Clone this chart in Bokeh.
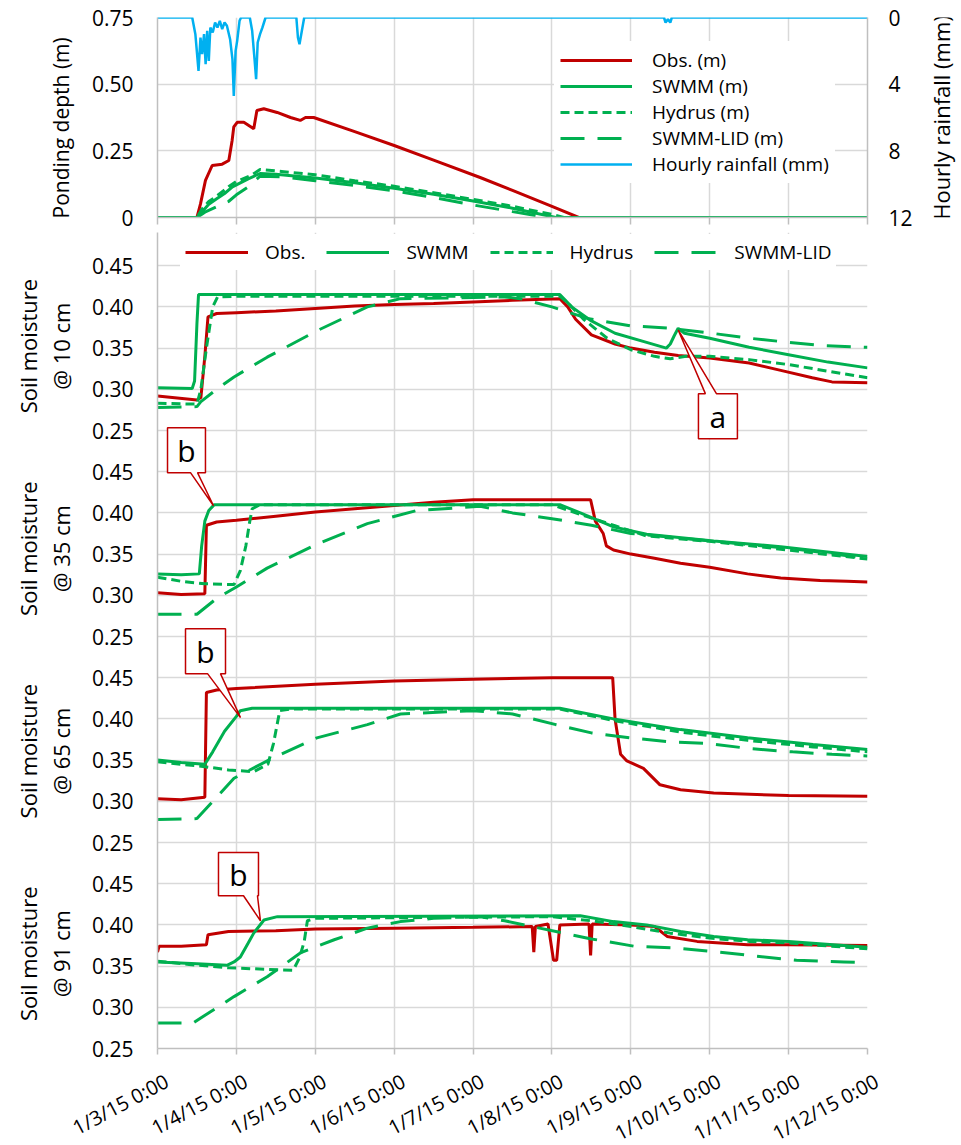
import math
from bokeh.plotting import figure
from bokeh.layouts import column, row
from bokeh.models import Range1d, LinearAxis, FixedTicker, Legend, LegendItem
from bokeh.core.properties import value
from bokeh.embed import file_html
from bokeh.resources import INLINE

FONT = "Open Sans"
RED = "#c00000"
GREEN = "#00b050"
BLUE = "#00b0f0"
GRID = "#d9d9d9"
AXIS = "#bfbfbf"

# ---------------- x axis (days after 1/3/15 0:00) ----------------
DAY_TICKS = [0, 1, 2, 3, 4, 5, 6, 7, 8, 9]
DAY_LABELS = ["1/3/15 0:00", "1/4/15 0:00", "1/5/15 0:00", "1/6/15 0:00", "1/7/15 0:00",
              "1/8/15 0:00", "1/9/15 0:00", "1/10/15 0:00", "1/11/15 0:00", "1/12/15 0:00"]

# ---------------- top panel: ponding depth (m) & hourly rainfall (mm) ----------------
PONDING_TICKS = [0, 0.25, 0.5, 0.75]
PONDING_LABELS = ["0", "0.25", "0.50", "0.75"]
RAIN_TICKS = [0, 4, 8, 12]

pond_obs = [(0, 0), (0.5, 0), (0.545, 0.051), (0.608, 0.139), (0.693, 0.195), (0.82, 0.2),
            (0.904, 0.214), (0.946, 0.289), (0.967, 0.34), (1.01, 0.357), (1.094, 0.357),
            (1.157, 0.345), (1.22, 0.333), (1.26, 0.401), (1.347, 0.408), (1.517, 0.394),
            (1.686, 0.375), (1.81, 0.364), (1.876, 0.375), (1.98, 0.375), (2.5, 0.322),
            (3.0, 0.27), (3.5, 0.215), (4.09, 0.15), (4.5, 0.102), (5.0, 0.042), (5.34, 0.0), (9.0, 0.0)]
pond_swmm = [(0, 0), (0.5, 0), (0.56, 0.02), (0.65, 0.05), (0.75, 0.07), (0.85, 0.09), (0.95, 0.115),
             (1.05, 0.13), (1.15, 0.145), (1.3, 0.165), (1.5, 0.162), (2.0, 0.148), (2.5, 0.13),
             (3.0, 0.11), (3.5, 0.087), (4.0, 0.062), (4.5, 0.035), (5.05, 0.0), (9.0, 0.0)]
pond_hydrus = [(0, 0), (0.5, 0), (0.56, 0.03), (0.65, 0.06), (0.75, 0.08), (0.9, 0.115), (1.0, 0.135),
               (1.2, 0.16), (1.3, 0.18), (1.6, 0.172), (2.0, 0.16), (2.5, 0.138), (3.0, 0.117),
               (3.5, 0.093), (4.0, 0.068), (4.5, 0.042), (5.0, 0.012), (5.15, 0.0), (9.0, 0.0)]
pond_lid = [(0, 0), (0.5, 0), (0.6, 0.02), (0.75, 0.04), (0.9, 0.06), (1.0, 0.085), (1.15, 0.115),
            (1.3, 0.155), (1.6, 0.152), (2.0, 0.138), (2.5, 0.12), (3.0, 0.1), (3.5, 0.075),
            (4.0, 0.047), (4.5, 0.022), (4.95, 0.0), (9.0, 0.0)]
rain = [(0, 0), (0.44, 0), (0.48, 1.0), (0.52, 3.2), (0.545, 1.2), (0.566, 2.2), (0.59, 1.0),
        (0.61, 2.8), (0.63, 0.8), (0.65, 2.6), (0.67, 0.6), (0.70, 0.9), (0.73, 0.3), (0.76, 0.6),
        (0.79, 0.2), (0.82, 0.7), (0.85, 0.3), (0.88, 0.5), (0.92, 1.3), (0.95, 2.5), (0.967, 4.7),
        (0.99, 2.0), (1.01, 1.4), (1.04, 0.2), (1.06, 0), (1.17, 0), (1.20, 0.8), (1.23, 2.5),
        (1.25, 3.7), (1.27, 1.5), (1.30, 1.0), (1.33, 0.6), (1.35, 0.3), (1.37, 0), (1.76, 0),
        (1.78, 1.2), (1.80, 1.6), (1.83, 0.8), (1.86, 0), (6.42, 0), (6.44, 0.3), (6.47, 0.1),
        (6.50, 0.3), (6.52, 0), (9.0, 0)]

# ---------------- soil moisture panels ----------------
DEPTHS = ["10 cm", "35 cm", "65 cm", "91 cm"]
SOIL_TICKS = [0.25, 0.30, 0.35, 0.40, 0.45]
SOIL_LABELS = ["0.25", "0.30", "0.35", "0.40", "0.45"]

obs10 = [(0, 0.292), (0.5, 0.287), (0.55, 0.29), (0.6, 0.34), (0.64, 0.388), (0.75, 0.392), (1.0, 0.393),
         (1.5, 0.395), (2.0, 0.398), (2.5, 0.401), (3.0, 0.403), (3.5, 0.404), (4.0, 0.406), (4.5, 0.408),
         (5.1, 0.41), (5.2, 0.40), (5.3, 0.385), (5.5, 0.366), (5.8, 0.355), (6.0, 0.35), (6.3, 0.345),
         (6.6, 0.341), (7.0, 0.338), (7.5, 0.332), (7.9, 0.323), (8.3, 0.314), (8.55, 0.309), (9.0, 0.308)]
swmm10 = [(0, 0.302), (0.44, 0.301), (0.47, 0.31), (0.5, 0.38), (0.52, 0.415), (5.1, 0.415), (5.25, 0.40),
          (5.5, 0.383), (5.8, 0.368), (6.2, 0.357), (6.45, 0.35), (6.5, 0.355), (6.55, 0.365), (6.6, 0.374),
          (6.68, 0.368), (7.0, 0.362), (7.5, 0.351), (8.0, 0.342), (8.5, 0.333), (9.0, 0.326)]
hydrus10 = [(0, 0.283), (0.5, 0.282), (0.55, 0.30), (0.62, 0.35), (0.70, 0.40), (0.76, 0.412), (1.0, 0.413),
            (5.1, 0.413), (5.2, 0.405), (5.4, 0.385), (5.7, 0.362), (6.0, 0.348), (6.3, 0.34), (6.5, 0.337),
            (6.7, 0.34), (7.0, 0.34), (7.5, 0.336), (8.0, 0.33), (8.5, 0.322), (9.0, 0.314)]
lid10 = [(0, 0.278), (0.5, 0.279), (0.55, 0.285), (0.75, 0.30), (0.97, 0.315), (1.39, 0.339), (2.02, 0.371),
         (2.66, 0.40), (3.08, 0.41), (4.4, 0.412), (4.6, 0.41), (5.0, 0.40), (5.45, 0.386), (6.0, 0.377),
         (6.5, 0.374), (6.95, 0.369), (7.5, 0.362), (8.0, 0.357), (8.45, 0.353), (9.0, 0.351)]

obs35 = [(0, 0.303), (0.3, 0.301), (0.6, 0.302), (0.62, 0.385), (0.75, 0.389), (1.0, 0.391), (1.5, 0.396),
         (2.0, 0.401), (2.5, 0.405), (3.0, 0.409), (3.5, 0.413), (4.0, 0.416), (5.49, 0.416), (5.55, 0.39),
         (5.65, 0.375), (5.69, 0.36), (5.78, 0.355), (6.0, 0.35), (6.3, 0.345), (6.63, 0.339), (7.0, 0.334),
         (7.48, 0.326), (7.9, 0.321), (8.4, 0.318), (8.74, 0.317), (9.0, 0.316)]
swmm35 = [(0, 0.326), (0.3, 0.325), (0.53, 0.326), (0.56, 0.36), (0.6, 0.39), (0.65, 0.403), (0.72, 0.41),
          (5.1, 0.41), (5.36, 0.40), (5.78, 0.383), (6.2, 0.374), (7.05, 0.366), (7.9, 0.359), (9.0, 0.347)]
hydrus35 = [(0, 0.322), (0.3, 0.317), (0.6, 0.314), (0.97, 0.313), (1.05, 0.33), (1.12, 0.36), (1.17, 0.39),
            (1.2, 0.405), (1.3, 0.41), (5.0, 0.41), (5.3, 0.40), (5.78, 0.385), (6.2, 0.372), (7.05, 0.365),
            (7.9, 0.356), (9.0, 0.344)]
lid35 = [(0, 0.277), (0.5, 0.277), (0.76, 0.297), (1.0, 0.31), (1.39, 0.333), (2.02, 0.362), (2.66, 0.387),
         (3.29, 0.403), (4.09, 0.408), (4.5, 0.40), (5.0, 0.393), (5.5, 0.385), (6.0, 0.375), (7.0, 0.366),
         (8.0, 0.357), (9.0, 0.345)]

obs65 = [(0, 0.303), (0.3, 0.302), (0.6, 0.305), (0.62, 0.432), (0.75, 0.435), (1.0, 0.437), (2.0, 0.442),
         (3.0, 0.446), (4.0, 0.448), (5.0, 0.45), (5.77, 0.45), (5.8, 0.40), (5.87, 0.357), (5.95, 0.349),
         (6.16, 0.34), (6.37, 0.32), (6.63, 0.314), (7.05, 0.31), (8.0, 0.307), (9.0, 0.306)]
swmm65 = [(0, 0.35), (0.3, 0.347), (0.6, 0.345), (0.7, 0.36), (0.85, 0.385), (1.0, 0.403), (1.05, 0.41),
          (1.2, 0.413), (5.1, 0.413), (5.78, 0.40), (6.63, 0.387), (7.48, 0.377), (8.31, 0.369), (9.0, 0.363)]
hydrus65 = [(0, 0.348), (0.3, 0.345), (0.6, 0.342), (0.9, 0.338), (1.22, 0.336), (1.4, 0.345), (1.47, 0.37),
            (1.55, 0.41), (1.7, 0.412), (5.1, 0.412), (5.78, 0.398), (6.63, 0.384), (7.48, 0.374),
            (8.31, 0.366), (9.0, 0.36)]
lid65 = [(0, 0.278), (0.5, 0.279), (0.97, 0.328), (1.47, 0.353), (2.02, 0.377), (2.66, 0.393), (3.08, 0.406),
         (4.0, 0.41), (4.5, 0.406), (5.05, 0.393), (5.5, 0.383), (6.0, 0.377), (6.5, 0.372), (7.0, 0.37),
         (7.5, 0.364), (8.05, 0.36), (8.55, 0.357), (9.0, 0.355)]

obs91 = [(0, 0.367), (0.02, 0.374), (0.3, 0.374), (0.62, 0.376), (0.64, 0.388), (0.9, 0.392), (1.5, 0.393),
         (2.0, 0.395), (3.0, 0.396), (4.0, 0.397), (4.75, 0.398), (4.77, 0.367), (4.79, 0.398), (4.95, 0.401),
         (5.02, 0.357), (5.06, 0.357), (5.1, 0.40), (5.47, 0.401), (5.49, 0.363), (5.51, 0.401), (6.0, 0.40),
         (6.3, 0.398), (6.46, 0.386), (6.84, 0.38), (7.48, 0.376), (8.0, 0.376), (9.0, 0.375)]
swmm91 = [(0, 0.355), (0.5, 0.353), (0.88, 0.351), (0.97, 0.355), (1.05, 0.361), (1.15, 0.378), (1.22, 0.39),
          (1.35, 0.406), (1.52, 0.41), (5.36, 0.411), (5.78, 0.404), (6.2, 0.40), (6.63, 0.392), (7.05, 0.386),
          (7.48, 0.382), (8.0, 0.38), (9.0, 0.373)]
hydrus91 = [(0, 0.356), (0.4, 0.352), (0.9, 0.348), (1.4, 0.346), (1.72, 0.345), (1.8, 0.36), (1.86, 0.38),
            (1.9, 0.405), (2.0, 0.408), (5.0, 0.41), (5.5, 0.405), (6.0, 0.398), (6.5, 0.39), (7.0, 0.384),
            (7.5, 0.38), (8.0, 0.378), (9.0, 0.371)]
lid91 = [(0, 0.281), (0.45, 0.281), (0.97, 0.313), (1.39, 0.337), (1.81, 0.366), (2.24, 0.382), (2.66, 0.396),
         (3.08, 0.404), (3.5, 0.408), (4.09, 0.41), (4.4, 0.405), (4.7, 0.399), (5.15, 0.39), (5.5, 0.383),
         (6.05, 0.374), (6.55, 0.372), (7.1, 0.367), (7.6, 0.362), (8.1, 0.357), (8.7, 0.355), (9.0, 0.354)]

SOIL = [
    {"obs": obs10, "swmm": swmm10, "hydrus": hydrus10, "lid": lid10},
    {"obs": obs35, "swmm": swmm35, "hydrus": hydrus35, "lid": lid35},
    {"obs": obs65, "swmm": swmm65, "hydrus": hydrus65, "lid": lid65},
    {"obs": obs91, "swmm": swmm91, "hydrus": hydrus91, "lid": lid91},
]

# callouts: panel, text, box (t0, t1, v0, v1), wedge base (t_a, t_b), tip (t, v)
CALLOUTS = [
    (0, "a", (6.857, 7.351, 0.240, 0.2947), (6.945, 7.085), (6.6, 0.372)),
    (1, "b", (0.127, 0.608, 0.4488, 0.5034), (0.418, 0.507), (0.71, 0.4087)),
    (2, "b", (0.355, 0.862, 0.4549, 0.5095), (0.634, 0.798), (1.052, 0.4015)),
    (3, "b", (0.773, 1.28, 0.4354, 0.488), (1.09, 1.267), (1.305, 0.405)),
]

STYLE = {
    "obs": dict(line_color=RED, line_width=3),
    "swmm": dict(line_color=GREEN, line_width=3),
    "hydrus": dict(line_color=GREEN, line_width=3, line_dash="9 5"),
    "lid": dict(line_color=GREEN, line_width=3, line_dash="24 13"),
}

# ---------------- layout geometry (pixels) ----------------
TOTAL_W = 958
LEFT_W = 80            # column holding the rotated y titles
RIGHT_W = 38           # column holding the right y title of the top figure
FRAME_L = 157          # left edge of plotting frames on the page
FRAME_W = 710
PX_DAY = FRAME_W / 9.0
TOP_H = 232            # top figure: frame 17..217
PX_UNIT = 824.0        # soil figure pixels per moisture unit
SOIL_FRAME_H = 816
SOIL_BOTTOM_BORDER = 14
SOIL_H = SOIL_FRAME_H + SOIL_BOTTOM_BORDER
SOIL_RANGE_TOP = -0.5 + SOIL_FRAME_H / PX_UNIT
XLAB_H = 83
PANEL_STEP = 0.25      # vertical offset between stacked soil panels (plot units)


def xs(pts):
    return [p[0] for p in pts]


def ys(pts, off=0.0):
    return [p[1] + off for p in pts]


def style_axis(ax, size="21px"):
    ax.axis_line_color = AXIS
    ax.axis_line_width = 1.5
    ax.major_tick_line_color = AXIS
    ax.major_tick_line_width = 1.5
    ax.minor_tick_line_color = None
    ax.major_tick_in = 0
    ax.major_tick_out = 0
    ax.major_label_text_font = FONT
    ax.major_label_text_font_size = size
    ax.major_label_text_color = "black"


def style_legend(lg):
    lg.label_text_font = FONT
    lg.label_text_font_size = "19px"
    lg.label_text_color = "black"
    lg.border_line_alpha = 0
    lg.background_fill_color = "white"
    lg.background_fill_alpha = 1
    lg.margin = 0
    lg.glyph_height = 22
    lg.label_height = 22


def text_fig(w, h, x_range=None):
    f = figure(width=w, height=h, x_range=x_range or Range1d(0, w), y_range=Range1d(0, h),
               output_backend="svg", toolbar_location=None, title=None,
               x_axis_type=None, y_axis_type=None, min_border=0)
    f.outline_line_color = None
    return f


def add_texts(f, x, y, text, angle, size, align="center", baseline="middle"):
    f.text(x=x, y=y, text=text, angle=angle, text_font=value(FONT), text_font_size=value(size),
           text_align=align, text_baseline=baseline, text_color="black")


# ======================= top figure =======================
P1_W = TOTAL_W - LEFT_W - RIGHT_W
p1 = figure(width=P1_W, height=TOP_H, x_range=Range1d(0, 9), y_range=Range1d(0, 0.75),
            output_backend="svg", toolbar_location=None, title=None,
            min_border_left=FRAME_L - LEFT_W, min_border_right=P1_W - (FRAME_L - LEFT_W) - FRAME_W,
            min_border_top=17, min_border_bottom=15)
p1.extra_y_ranges = {"rain": Range1d(12, 0)}
p1.outline_line_color = None

r_obs = p1.line(xs(pond_obs), ys(pond_obs), **STYLE["obs"])
r_swmm = p1.line(xs(pond_swmm), ys(pond_swmm), **STYLE["swmm"])
r_hyd = p1.line(xs(pond_hydrus), ys(pond_hydrus), **STYLE["hydrus"])
r_lid = p1.line(xs(pond_lid), ys(pond_lid), **STYLE["lid"])
r_rain = p1.line(xs(rain), ys(rain), line_color=BLUE, line_width=2.5, y_range_name="rain")

style_axis(p1.xaxis[0])
p1.xaxis[0].ticker = FixedTicker(ticks=DAY_TICKS)
p1.xaxis[0].major_label_overrides = {t: "" for t in DAY_TICKS}
p1.xaxis[0].major_tick_out = 7
p1.xaxis[0].major_label_standoff = 0

style_axis(p1.yaxis[0])
p1.yaxis[0].ticker = FixedTicker(ticks=PONDING_TICKS)
p1.yaxis[0].major_label_overrides = dict(zip(PONDING_TICKS, PONDING_LABELS))
p1.yaxis[0].major_label_standoff = 24

rax = LinearAxis(y_range_name="rain", ticker=FixedTicker(ticks=RAIN_TICKS))
style_axis(rax)
rax.major_label_standoff = 21
p1.add_layout(rax, "right")

for g in (p1.xgrid[0], p1.ygrid[0]):
    g.grid_line_color = GRID
    g.grid_line_width = 1.5

lg1 = Legend(items=[LegendItem(label="Obs. (m)", renderers=[r_obs]),
                    LegendItem(label="SWMM (m)", renderers=[r_swmm]),
                    LegendItem(label="Hydrus (m)", renderers=[r_hyd]),
                    LegendItem(label="SWMM-LID (m)", renderers=[r_lid]),
                    LegendItem(label="Hourly rainfall (mm)", renderers=[r_rain])],
             location=(397, 34), orientation="vertical")
style_legend(lg1)
lg1.glyph_width = 72
lg1.label_standoff = 20
lg1.spacing = 0
lg1.padding = 6
p1.add_layout(lg1)

# titles of the top figure (left and right)
l_top = text_fig(LEFT_W, TOP_H)
add_texts(l_top, [60], [TOP_H - 128], ["Ponding depth (m)"], math.pi / 2, "21px")
r_top = text_fig(RIGHT_W, TOP_H)
add_texts(r_top, [20], [TOP_H - 116], ["Hourly rainfall (mm)"], math.pi / 2, "22px")

# ======================= soil moisture figure =======================
p2 = figure(width=TOTAL_W - LEFT_W, height=SOIL_H, x_range=p1.x_range,
            y_range=Range1d(-0.5, SOIL_RANGE_TOP),
            output_backend="svg", toolbar_location=None, title=None,
            min_border_left=FRAME_L - LEFT_W, min_border_right=TOTAL_W - FRAME_L - FRAME_W,
            min_border_top=0, min_border_bottom=SOIL_BOTTOM_BORDER)
p2.outline_line_color = None

soil_ticks = []
soil_overrides = {}
for k in range(len(DEPTHS)):
    for v, lab in zip(SOIL_TICKS, SOIL_LABELS):
        pos = round(v - PANEL_STEP * k, 4)
        soil_ticks.append(pos)
        soil_overrides[pos] = lab

legend_renderers = {}
for k, series in enumerate(SOIL):
    off = -PANEL_STEP * k
    for name in ("obs", "swmm", "hydrus", "lid"):
        pts = series[name]
        r = p2.line(xs(pts), ys(pts, off), **STYLE[name])
        if k == 0:
            legend_renderers[name] = r

# callouts
cxs, cys, tx, ty, tt = [], [], [], [], []
for k, txt, (l, r, b, t), (wa, wb), (px, py) in CALLOUTS:
    off = -PANEL_STEP * k
    b2, t2, py2 = b + off, t + off, py + off
    if py2 > t2:  # pointer above the box
        poly_x = [l, l, wa, px, wb, r, r]
        poly_y = [b2, t2, t2, py2, t2, t2, b2]
    else:        # pointer below the box
        poly_x = [l, r, r, wb, px, wa, l]
        poly_y = [t2, t2, b2, b2, py2, b2, b2]
    cxs.append(poly_x)
    cys.append(poly_y)
    tx.append((l + r) / 2)
    ty.append((b2 + t2) / 2)
    tt.append(txt)
p2.patches(cxs, cys, fill_color="white", line_color=RED, line_width=1.5)
add_texts(p2, tx, ty, tt, 0, "30px")

style_axis(p2.xaxis[0])
p2.xaxis[0].ticker = FixedTicker(ticks=DAY_TICKS)
p2.xaxis[0].major_label_overrides = {t: "" for t in DAY_TICKS}
p2.xaxis[0].major_tick_out = 6
p2.xaxis[0].major_label_standoff = 0

style_axis(p2.yaxis[0])
p2.yaxis[0].ticker = FixedTicker(ticks=soil_ticks)
p2.yaxis[0].major_label_overrides = soil_overrides
p2.yaxis[0].major_label_standoff = 24

for g in (p2.xgrid[0], p2.ygrid[0]):
    g.grid_line_color = GRID
    g.grid_line_width = 1.5

lg2 = Legend(items=[LegendItem(label="Obs.", renderers=[legend_renderers["obs"]]),
                    LegendItem(label="SWMM", renderers=[legend_renderers["swmm"]]),
                    LegendItem(label="Hydrus", renderers=[legend_renderers["hydrus"]]),
                    LegendItem(label="SWMM-LID", renderers=[legend_renderers["lid"]])],
             location=(23, 778), orientation="horizontal")
style_legend(lg2)
lg2.glyph_width = 63
lg2.label_standoff = 17
lg2.spacing = 21
lg2.padding = 5
p2.add_layout(lg2)

# soil y titles (two lines each), centred on each panel's 0.35 gridline
l_soil = text_fig(LEFT_W, SOIL_H)
t_x, t_y, t_t = [], [], []
for k, depth in enumerate(DEPTHS):
    centre = 0.35 - PANEL_STEP * k
    y_pos = SOIL_BOTTOM_BORDER + (centre + 0.5) * PX_UNIT
    t_x += [27, 60]
    t_y += [y_pos, y_pos]
    t_t += ["Soil moisture", "@ " + depth]
add_texts(l_soil, t_x, t_y, t_t, math.pi / 2, "22px")

# x tick labels (rotated) under the soil figure
xlab = text_fig(TOTAL_W, XLAB_H, x_range=Range1d(-FRAME_L / PX_DAY, (TOTAL_W - FRAME_L) / PX_DAY))
add_texts(xlab, [t + 3 / PX_DAY for t in DAY_TICKS], [XLAB_H - 5] * len(DAY_TICKS), DAY_LABELS,
          0.49, "20px", align="right", baseline="top")

layout = column(row(l_top, p1, r_top, spacing=0), row(l_soil, p2, spacing=0), xlab, spacing=0)
open("out.html", "w").write(file_html(layout, INLINE))
